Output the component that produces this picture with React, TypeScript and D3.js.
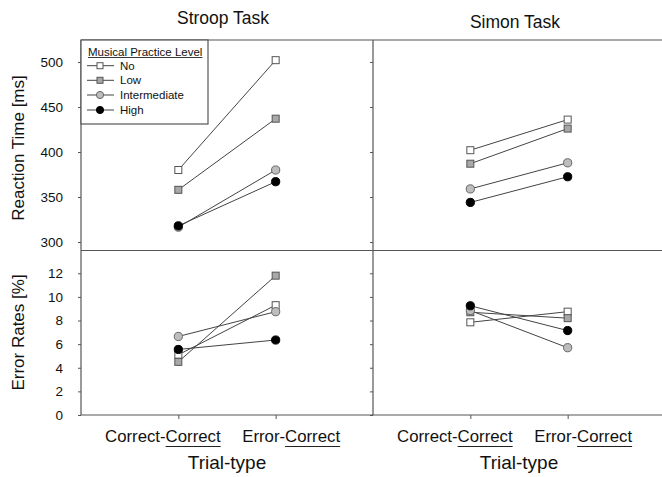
import React, { useEffect, useRef } from "react";
import * as d3 from "d3";

const trialTypes = ["Correct-Correct", "Error-Correct"];
const levels = ["No", "Low", "Intermediate", "High"];
const taskTitles = ["Stroop Task", "Simon Task"];
// values per level: [Correct-Correct, Error-Correct]
const stroopRT = [[380, 502], [358, 437], [316.5, 380], [318, 367]];
const simonRT = [[402, 436], [387, 426], [359, 388], [344, 372.5]];
const stroopErr = [[5.1, 9.3], [4.5, 11.8], [6.65, 8.75], [5.55, 6.35]];
const simonErr = [[7.85, 8.75], [8.7, 8.2], [8.85, 5.7], [9.25, 7.15]];
const rtTicks = [300, 350, 400, 450, 500];
const errTicks = [0, 2, 4, 6, 8, 10, 12];

const markerShape = ["square", "square", "circle", "circle"];
const markerFill = ["#ffffff", "#a8a8a8", "#bdbdbd", "#000000"];

export default function App() {
  const ref = useRef<SVGSVGElement>(null);
  useEffect(() => {
    const svg = d3.select(ref.current);
    svg.selectAll("*").remove();
    const font = "'Liberation Sans', Arial, Helvetica, sans-serif";
    const frame = "#555";
    const left = 81, mid = 373, right = 665, top = 40, split = 250.5, bottom = 415;

    const yRT = d3.scaleLinear().domain([290.6, 524.4]).range([split, top]);
    const yErr = d3.scaleLinear().domain([0, 13.93]).range([bottom, split]);
    const xs = [
      d3.scalePoint<string>().domain(trialTypes).range([left, mid]).padding(1),
      d3.scalePoint<string>().domain(trialTypes).range([mid, right]).padding(1),
    ];

    const g = svg.append("g");

    // axes ticks
    const addY = (scale: any, ticks: number[], x: number, labels: boolean) => {
      const ax = d3.axisLeft(scale).tickValues(ticks).tickSize(3).tickPadding(15);
      if (!labels) ax.tickFormat(() => "");
      const a = g.append("g").attr("transform", `translate(${x},0)`).call(ax as any);
      a.select(".domain").remove();
      a.selectAll("line").attr("stroke", frame);
      a.selectAll("text").attr("font-family", font).attr("font-size", 13.5).attr("fill", "#111");
    };
    addY(yRT, rtTicks, left, true);
    addY(yErr, errTicks, left, true);
    addY(yRT, rtTicks, mid, false);
    addY(yErr, errTicks, mid, false);

    xs.forEach((x) => {
      const a = g.append("g").attr("transform", `translate(0,${bottom})`)
        .call(d3.axisBottom(x).tickSize(4).tickFormat(() => "") as any);
      a.select(".domain").remove();
      a.selectAll("line").attr("stroke", frame);
    });

    // frame
    const fl = (x1: number, y1: number, x2: number, y2: number) =>
      g.append("line").attr("x1", x1).attr("y1", y1).attr("x2", x2).attr("y2", y2)
        .attr("stroke", frame).attr("stroke-width", 1.2);
    fl(left, top, 662, top);
    fl(left, split, 662, split);
    fl(left, bottom, 662, bottom);
    fl(left, top, left, bottom);
    fl(mid, top, mid, bottom);

    // data
    const panels = [
      { x: xs[0], y: yRT, data: stroopRT },
      { x: xs[1], y: yRT, data: simonRT },
      { x: xs[0], y: yErr, data: stroopErr },
      { x: xs[1], y: yErr, data: simonErr },
    ];
    const drawMarker = (sel: any, i: number, cx: number, cy: number, s: number) => {
      if (markerShape[i] === "square") {
        sel.append("rect").attr("x", cx - s).attr("y", cy - s).attr("width", 2 * s).attr("height", 2 * s)
          .attr("fill", markerFill[i]).attr("stroke", "#555").attr("stroke-width", 1);
      } else {
        sel.append("circle").attr("cx", cx).attr("cy", cy).attr("r", s + 0.6)
          .attr("fill", markerFill[i]).attr("stroke", i === 3 ? "#000" : "#666").attr("stroke-width", 1);
      }
    };
    panels.forEach((p) => {
      const line = d3.line<number>().x((_, j) => p.x(trialTypes[j]) as number).y((v) => p.y(v));
      p.data.forEach((vals) => {
        g.append("path").attr("d", line(vals)).attr("fill", "none").attr("stroke", "#444").attr("stroke-width", 1);
      });
      p.data.forEach((vals, i) => {
        vals.forEach((v, j) => drawMarker(g, i, p.x(trialTypes[j]) as number, p.y(v), 3.5));
      });
    });

    // titles
    const titleY = [23.5, 28];
    taskTitles.forEach((t, k) => {
      const [a, b] = k === 0 ? [left, mid] : [mid, right];
      g.append("text").attr("x", (a + b) / 2 - 4).attr("y", titleY[k]).attr("text-anchor", "middle")
        .attr("font-family", font).attr("font-size", 17.5).attr("fill", "#111").text(t);
    });

    // y labels
    const ylab = (t: string, cy: number) =>
      g.append("text").attr("transform", `translate(24,${cy}) rotate(-90)`).attr("text-anchor", "middle")
        .attr("font-family", font).attr("font-size", 17).attr("fill", "#111").text(t);
    ylab("Reaction Time [ms]", 148);
    ylab("Error Rates [%]", 332.5);

    // x tick labels with underlined second word
    xs.forEach((x, k) => {
      trialTypes.forEach((t, j) => {
        const cx = (x(t) as number) + (j === 0 ? -15.5 : 15.5);
        const txt = g.append("text").attr("x", cx).attr("y", 441.5).attr("text-anchor", "middle")
          .attr("font-family", font).attr("font-size", 16.8).attr("fill", "#111").text(t);
        const node = txt.node() as SVGTextElement;
        const idx = t.indexOf("-") + 1;
        try {
          const x1 = node.getStartPositionOfChar(idx).x;
          const x2 = node.getEndPositionOfChar(t.length - 1).x;
          g.append("line").attr("x1", x1).attr("x2", x2).attr("y1", 446.5).attr("y2", 446.5)
            .attr("stroke", "#222").attr("stroke-width", 1);
        } catch (e) {}
      });
      const [a, b] = k === 0 ? [left, mid] : [mid, right];
      g.append("text").attr("x", (a + b) / 2).attr("y", 469).attr("text-anchor", "middle")
        .attr("font-family", font).attr("font-size", 19).attr("fill", "#111").text("Trial-type");
    });

    // legend
    const lg = g.append("g");
    lg.append("rect").attr("x", left).attr("y", top).attr("width", 127).attr("height", 84)
      .attr("fill", "#fff").attr("stroke", frame).attr("stroke-width", 1.2);
    const lt = lg.append("text").attr("x", 88).attr("y", 55.5).attr("font-family", font)
      .attr("font-size", 11.5).attr("fill", "#111").text("Musical Practice Level");
    const tw = (lt.node() as SVGTextElement).getComputedTextLength();
    lg.append("line").attr("x1", 88).attr("x2", 88 + tw).attr("y1", 57.5).attr("y2", 57.5)
      .attr("stroke", "#222").attr("stroke-width", 0.9);
    const ly = [65.7, 80.3, 95, 110];
    levels.forEach((l, i) => {
      lg.append("line").attr("x1", 87).attr("x2", 114).attr("y1", ly[i]).attr("y2", ly[i])
        .attr("stroke", "#444").attr("stroke-width", 1);
      drawMarker(lg, i, 100, ly[i], 3);
      lg.append("text").attr("x", 120).attr("y", ly[i] + 4).attr("font-family", font)
        .attr("font-size", 11.5).attr("fill", "#111").text(l);
    });
  }, []);
  return (
    <svg ref={ref} width={662} height={477}
      style={{ position: "absolute", left: 0, top: 0, background: "#fff" }} />
  );
}
